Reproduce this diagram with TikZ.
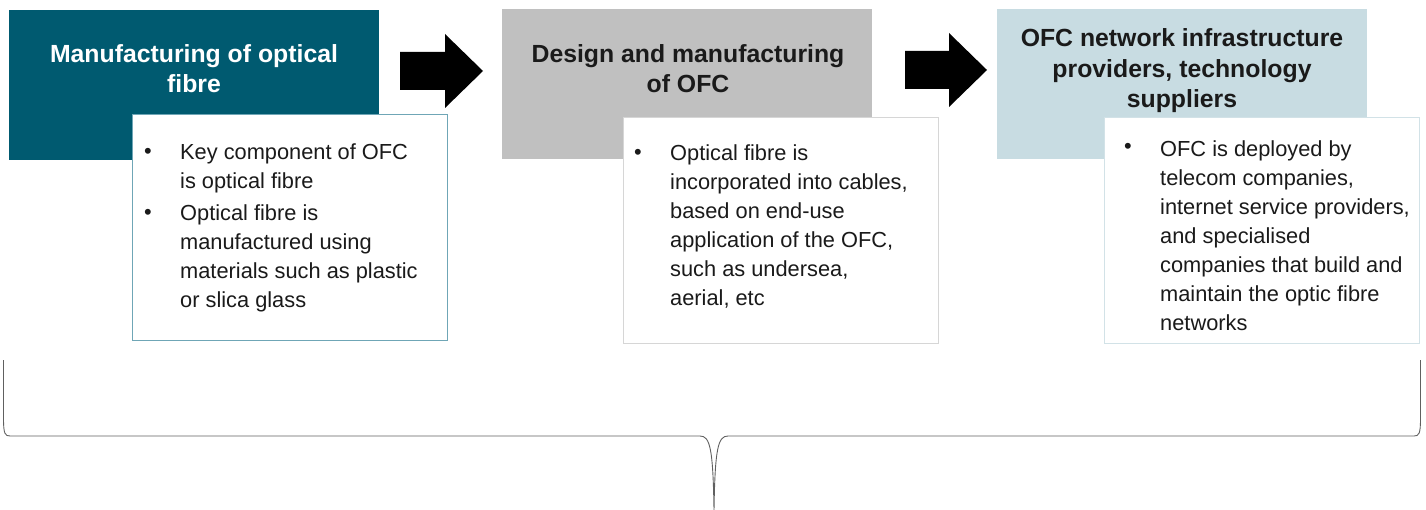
\documentclass[tikz,border=0pt]{standalone}
\usepackage{fontspec}
\setmainfont{Liberation Sans}
\definecolor{tealdark}{HTML}{005A70}
\definecolor{silver}{HTML}{C0C0C0}
\definecolor{paleblue}{HTML}{C8DCE2}
\definecolor{tealedge}{HTML}{6FA6B6}
\definecolor{greyedge}{HTML}{D6D6D6}
\definecolor{blueedge}{HTML}{D2E2E7}
\definecolor{ink}{HTML}{1A1A1A}
\tikzset{
  header/.style={anchor=north west, inner sep=0pt, minimum width=370pt, minimum height=150pt},
  detail/.style={anchor=north west, inner sep=0pt, fill=white, line width=0.9pt, minimum width=315pt, minimum height=226pt},
  headtext/.style={align=center, inner sep=0pt, font=\bfseries\fontsize{24.8}{30.5}\selectfont},
  bodytext/.style={align=left, anchor=west, inner sep=0pt, text=ink, font=\fontsize{21.8}{29}\selectfont},
  bullet/.style={inner sep=0pt, text=ink, font=\fontsize{21.8}{29}\selectfont},
  blockarrow/.style={fill=black, draw=none},
  bracket/.style={draw=gray!75!black, line width=0.9pt}
}
\begin{document}
\begin{tikzpicture}[x=1pt, y=-1pt]
\useasboundingbox (0,0) rectangle (1426,510);

% stage headers
\node[header, fill=tealdark] (h1) at (9,10) {};
\node[header, fill=silver] (h2) at (502,9) {};
\node[header, fill=paleblue] (h3) at (997,9) {};

\node[headtext, text=white] (h1t) at (194,68.5) {Manufacturing of optical\\fibre};
\node[headtext, text=ink] (h2t) at (688,68.5) {Design and manufacturing\\of OFC};
\node[headtext, text=ink] (h3t) at (1182,71) {OFC network infrastructure\\providers, technology\\suppliers};

% detail boxes
\node[detail, draw=tealedge] (d1) at (132,114) {};
\node[detail, draw=greyedge] (d2) at (623,117) {};
\node[detail, draw=blueedge] (d3) at (1104,117) {};

\node[bullet] (b1a) at (148,153) {•};
\node[bullet] (b1b) at (148,214) {•};
\node[bodytext] (t1a) at (180,168.5) {Key component of OFC\\is optical fibre};
\node[bodytext] (t1b) at (180,258.5) {Optical fibre is\\manufactured using\\materials such as plastic\\or slica glass};

\node[bullet] (b2a) at (638,154) {•};
\node[bodytext] (t2a) at (670,226.5) {Optical fibre is\\incorporated into cables,\\based on end-use\\application of the OFC,\\such as undersea,\\aerial, etc};

\node[bullet] (b3a) at (1128,148.5) {•};
\node[bodytext] (t3a) at (1160,235.5) {OFC is deployed by\\telecom companies,\\internet service providers,\\and specialised\\companies that build and\\maintain the optic fibre\\networks};

% block arrows between stages
\fill[blockarrow] (400,52) -- (445,52) -- (445,34) -- (483,71) -- (445,108) -- (445,90) -- (400,90) -- cycle;
\fill[blockarrow] (905,51) -- (949,51) -- (949,33) -- (987,70) -- (949,107) -- (949,89) -- (905,89) -- cycle;

% bracket under the whole chain
\coordinate (bl) at (3.5,360);
\coordinate (br) at (1420.5,360);
\coordinate (tip) at (714,510);
\draw[bracket] (bl) -- (3.5,418) .. controls (3.5,434) and (5,436) .. (10,436)
  -- (700,436) .. controls (710,436) and (713,448) .. (tip)
  .. controls (715,448) and (718,436) .. (728,436)
  -- (1414,436) .. controls (1419,436) and (1420.5,434) .. (1420.5,418) -- (br);
\end{tikzpicture}
\end{document}
